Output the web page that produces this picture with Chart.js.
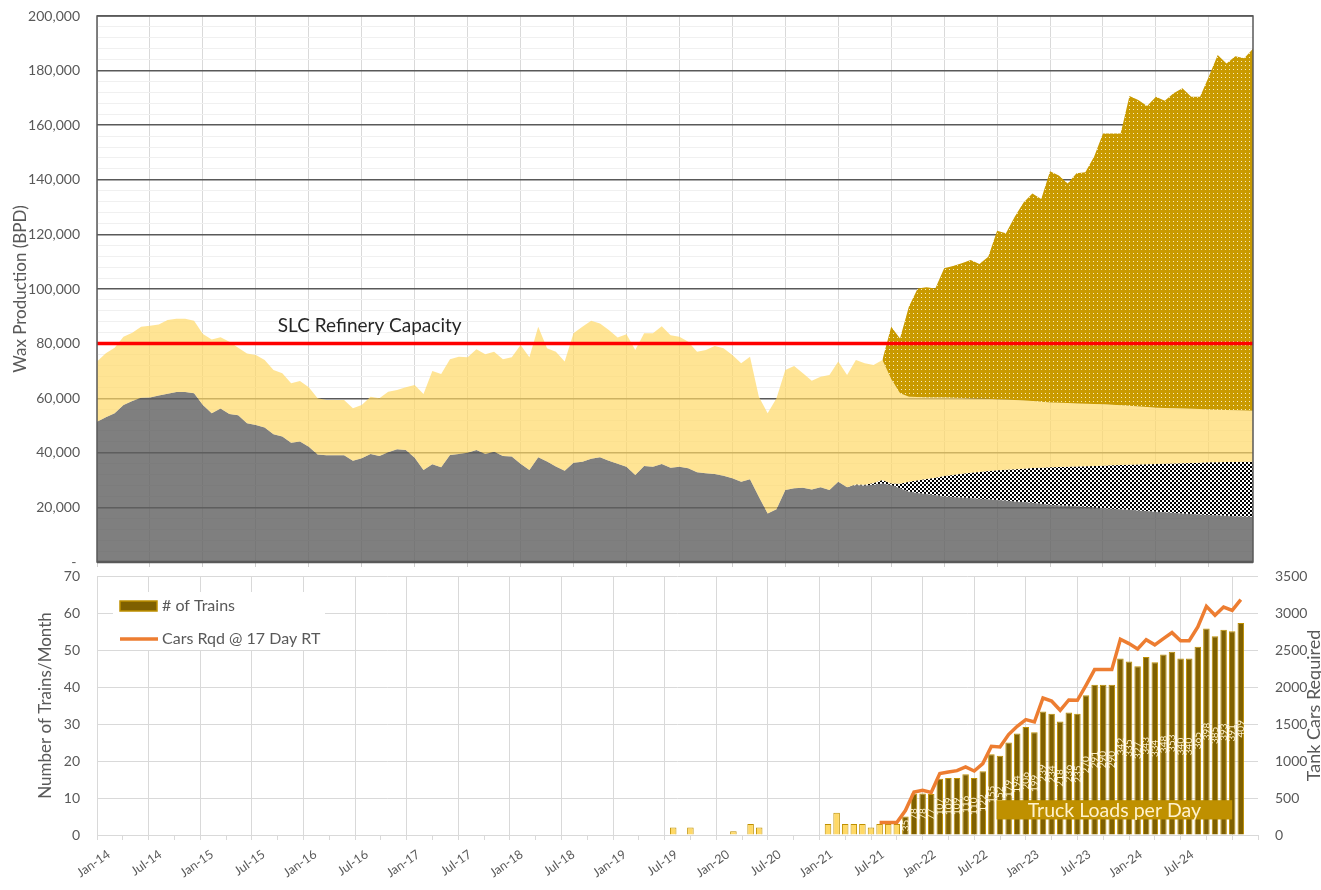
<!DOCTYPE html>
<html>
<head>
<meta charset="utf-8">
<script src="https://cdn.jsdelivr.net/npm/chart.js@4.4.1/dist/chart.umd.min.js"></script>
<style>
  html, body { margin: 0; padding: 0; background: #ffffff; }
  #wrap { position: relative; width: 1321px; height: 890px; overflow: hidden; background: #fff; }
  #top { position: absolute; left: 0; top: 0; }
  #bot { position: absolute; left: 0; top: 560px; }
</style>
</head>
<body>
<div id="wrap">
  <canvas id="top" width="1321" height="570"></canvas>
  <canvas id="bot" width="1321" height="330"></canvas>
</div>
<script>
// ---------------- DATA ----------------
const MONTHS = ['Jan','Feb','Mar','Apr','May','Jun','Jul','Aug','Sep','Oct','Nov','Dec'];
const N = 132; // Jan-14 .. Dec-24
const tickLabels = ['Jan-14','Jul-14','Jan-15','Jul-15','Jan-16','Jul-16','Jan-17','Jul-17','Jan-18','Jul-18',
  'Jan-19','Jul-19','Jan-20','Jul-20','Jan-21','Jul-21','Jan-22','Jul-22','Jan-23','Jul-23','Jan-24','Jul-24'];

// Grey area: existing wax production (BPD), Jan-14 .. Dec-24
const existingProd = [
  51400,53000,54500,57500,59000,60200,60300,61000,61600,62300,62300,61800,
  57500,54500,56200,54200,53800,50800,50200,49300,46800,46000,43700,44100,
  42200,39400,39100,39100,39100,37100,38000,39600,38800,40200,41300,41000,
  38200,33700,35800,34700,39200,39600,40000,41000,39600,40400,38800,38600,
  36000,33700,38400,36800,35000,33400,36400,36700,37800,38400,37100,36000,
  34900,31900,35200,34900,35900,34500,34900,34300,32900,32500,32200,31600,
  30700,29400,30300,23900,17800,19300,26400,27000,27200,26600,27400,26400,
  29400,27400,28200,28000,28300,28800,28200,27000,25800,25300,24900,24500,
  24000,23800,23600,23400,23200,23000,22700,22500,22200,22000,21700,21300,
  21000,20800,20600,20400,20200,20000,19700,19500,19300,19100,18900,18700,
  18400,18200,18000,17800,17600,17400,17200,17100,16900,16800,16700,16600
];
// Top of the light-yellow area (total production until Jun-21, refinery supply after)
const refinedTop = [
  73400,76500,78500,82500,84000,86200,86500,87000,88600,89100,89100,88400,
  83500,81500,82300,80700,78500,76400,75800,74000,70300,69100,65500,66300,
  64000,60000,59300,59300,59300,56300,57500,60500,60000,62400,63000,64000,
  64800,61500,70000,68900,74300,75200,75000,77900,76100,77000,74300,75000,
  79500,75000,86200,78300,77000,73400,83800,86200,88400,87400,85000,82200,
  83400,77700,83800,83800,86400,83100,82500,80700,77000,77700,79100,78300,
  75800,72800,75200,60500,54500,60000,70300,71800,69100,66400,67900,68500,
  73400,68500,74000,72800,72200,74000,67000,61800,60500,60400,60300,60300,
  60300,60200,60100,60000,59900,59800,59600,59500,59300,59200,59000,58700,
  58400,58300,58200,58100,58000,57900,57800,57600,57400,57200,57000,56800,
  56500,56400,56300,56200,56100,56000,55900,55800,55700,55600,55500,55400
];
// Top of the checkered band (new wells) from Mar-21
const newWellsTopFrom = 'Mar-21';
const newWellsTop = [
  28400,28300,28900,30000,28800,28700,29400,29900,30400,30900,31500,31900,
  32300,32700,33000,33300,33600,33800,34000,34200,34400,34500,34700,34800,
  34900,35000,35100,35200,35300,35400,35500,35600,35700,35800,35900,36000,
  36100,36200,36300,36400,36500,36500,36600,36600,36700,36700
];
// Top of the gold dotted area (total production forecast) from Jun-21
const totalProdFrom = 'Jun-21';
const totalProd = [
  74000,86200,81900,93500,100200,100600,100200,107600,108400,109400,110600,109200,
  111800,121300,120400,126500,131700,135000,133000,143100,141600,138600,142400,142800,
  148500,157000,157000,157000,170700,169200,167000,170400,169000,171700,173500,170400,
  170400,177800,185700,182600,185300,184500,188000
];
const slcCapacity = 80000;

// Bottom chart
const actualTrainsFrom = 'Jun-19';
const actualTrains = [2,null,2,null,null,null,null,1,null,3,2,null,null,null,null,null,null,null,3,6,3,3,3,2,3,3,3];
const forecastFrom = 'Sep-21';
const forecastTrains = [
  5,11.2,11.2,11.1,15.2,15.4,15.4,16.4,15.4,17.2,21.8,21.4,25.0,27.4,29.2,27.8,
  33.4,32.8,30.7,33.1,32.8,37.8,40.6,40.6,40.6,47.7,46.9,45.6,48.1,46.7,48.8,49.5,
  47.7,47.7,50.9,55.8,53.7,55.5,55.1,57.3
];
const truckLoads = [
  35,78,78,77,107,109,109,116,110,122,155,152,179,194,206,199,
  239,234,218,236,235,270,291,290,290,342,335,327,343,334,348,353,
  340,340,365,398,385,393,391,409
];
const carsFrom = 'Jun-21';
const carsRequired = [
  168,168,168,330,581,604,575,830,852,870,919,865,965,1199,1189,1357,1469,1559,1527,
  1851,1811,1685,1825,1820,2023,2235,2235,2235,2645,2586,2514,2640,2570,2654,2735,
  2625,2625,2811,3090,2969,3081,3036,3180
];

// ---------------- HELPERS ----------------
const monthIdx = lbl => { const [m, y] = lbl.split('-'); return (Number(y) - 14) * 12 + MONTHS.indexOf(m); };
const align = (startLbl, arr) => { const s = monthIdx(startLbl);
  return Array.from({length: N}, (_, i) => (i >= s && i - s < arr.length) ? arr[i - s] : null); };

const newWellsFull = align(newWellsTopFrom, newWellsTop);
const totalFull = align(totalProdFrom, totalProd);
const actualFull = align(actualTrainsFrom, actualTrains);
const forecastFull = align(forecastFrom, forecastTrains);
const truckFull = align(forecastFrom, truckLoads);
const carsFull = align(carsFrom, carsRequired);

const FAM = "Lato, 'Liberation Sans', sans-serif";
Chart.defaults.font.family = FAM;
Chart.defaults.color = '#595959';

function tile(size, paint) { const c = document.createElement('canvas'); c.width = size; c.height = size; paint(c.getContext('2d')); return c; }
const noVPad = s => { s.paddingTop = 0; s.paddingBottom = 0; };

// ---------------- TOP CHART ----------------
const tctx = document.getElementById('top').getContext('2d');
const goldDots = tctx.createPattern(tile(4, g => {
  g.fillStyle = '#c99a00'; g.fillRect(0, 0, 4, 4);
  g.fillStyle = 'rgba(255,250,225,0.85)'; g.fillRect(1, 1, 1, 1);
}), 'repeat');
const checker = tctx.createPattern(tile(4, g => {
  g.fillStyle = '#ffffff'; g.fillRect(0, 0, 4, 4);
  g.fillStyle = '#000000'; g.fillRect(0, 0, 2, 2); g.fillRect(2, 2, 2, 2);
}), 'repeat');

const pts = arr => arr.map((v, i) => ({x: i, y: v}));
const checkerBoundary = newWellsFull.map((v, i) => v ?? existingProd[i]);
const area = (label, data, fill, bg, order) => ({
  label, data: pts(data), fill, backgroundColor: bg, borderColor: 'rgba(0,0,0,0)',
  borderWidth: 0, pointRadius: 0, pointHoverRadius: 0, tension: 0, order
});

const topDecor = {
  id: 'topDecor',
  afterDraw(chart) {
    const {ctx, chartArea: a, scales: {x, y}} = chart;
    ctx.save();
    ctx.strokeStyle = '#595959';
    ctx.lineWidth = 1.5;
    ctx.strokeRect(a.left, a.top, a.right - a.left, a.bottom - a.top);
    ctx.lineWidth = 2.5;
    ctx.beginPath(); ctx.moveTo(a.left, a.bottom); ctx.lineTo(a.right, a.bottom); ctx.stroke();
    ctx.fillStyle = '#262626';
    ctx.font = '19px ' + FAM;
    ctx.textAlign = 'center'; ctx.textBaseline = 'middle';
    ctx.fillText('SLC Refinery Capacity', x.getPixelForValue(30.9), y.getPixelForValue(86400));
    ctx.restore();
  }
};

const topXTicks = Array.from({length: 22}, (_, k) => k * 6);
const topYTicks = Array.from({length: 51}, (_, k) => k * 4000);

new Chart(tctx, {
  type: 'line',
  data: { datasets: [
    {label: 'SLC Refinery Capacity', data: pts(Array.from({length: N}, () => slcCapacity)),
     borderColor: '#ff0000', borderWidth: 3.5, pointRadius: 0, fill: false, tension: 0, order: 0},
    area('Existing production', existingProd, 'origin', 'rgba(95,95,95,0.8)', 4),
    area('New wells', checkerBoundary, '-1', checker, 3),
    area('Refinery supply', refinedTop, '-1', 'rgba(255,217,102,0.7)', 2),
    area('Excess wax', totalFull, '-1', goldDots, 1)
  ]},
  options: {
    responsive: false, animation: false, devicePixelRatio: 1, events: [],
    layout: {padding: {top: 16, right: 68, left: 0, bottom: 0}},
    plugins: {legend: {display: false}, tooltip: {enabled: false}},
    scales: {
      x: {
        type: 'linear', min: 0, max: 131,
        afterBuildTicks: s => { s.ticks = topXTicks.map(v => ({value: v})); },
        ticks: {display: false},
        grid: {color: '#d9d9d9', lineWidth: 1, drawTicks: true, tickLength: 5, tickColor: '#d0d0d0'},
        border: {display: false},
        afterFit: s => { s.height = 8; s.paddingLeft = 0; s.paddingRight = 0; }
      },
      y: {
        min: 0, max: 200000,
        afterBuildTicks: s => { s.ticks = topYTicks.map(v => ({value: v})); },
        ticks: {
          autoSkip: false, padding: 17, color: '#595959', font: {size: 14},
          callback: v => v % 20000 === 0 ? (v === 0 ? '- ' : v.toLocaleString('en-US')) : ''
        },
        grid: {
          drawTicks: false,
          color: c => (c.tick && c.tick.value % 20000 === 0) ? '#595959' : '#f0f0f0',
          lineWidth: c => (c.tick && c.tick.value % 20000 === 0) ? 1.4 : 1
        },
        border: {display: false},
        title: {display: true, text: 'Wax Production (BPD)', color: '#595959', font: {size: 17}, padding: {top: 10, bottom: 0}},
        afterFit: s => { s.width = 97; noVPad(s); }
      }
    }
  },
  plugins: [topDecor]
});

// ---------------- BOTTOM CHART ----------------
const bctx = document.getElementById('bot').getContext('2d');
const midPts = arr => arr.map((v, i) => ({x: i + 0.5, y: v}));
const botXTicks = Array.from({length: 45}, (_, k) => k * 3);

const botDecor = {
  id: 'botDecor',
  afterDraw(chart) {
    const {ctx, chartArea: a, scales: {x, y}} = chart;
    ctx.save();
    // x-axis labels, rotated, ending at their tick
    ctx.fillStyle = '#595959';
    ctx.font = '12.5px ' + FAM;
    ctx.textAlign = 'right'; ctx.textBaseline = 'middle';
    tickLabels.forEach((lbl, k) => {
      ctx.save();
      ctx.translate(x.getPixelForValue(k * 6) - 1, a.bottom + 18);
      ctx.rotate(-35 * Math.PI / 180);
      ctx.fillText(lbl, 0, 0);
      ctx.restore();
    });
    // bar labels: truck loads per day
    const meta = chart.getDatasetMeta(1);
    ctx.fillStyle = '#fff2cc';
    ctx.font = '10px ' + FAM;
    ctx.textAlign = 'center'; ctx.textBaseline = 'middle';
    meta.data.forEach((el, i) => {
      const t = truckFull[i];
      if (t == null || forecastFull[i] == null) return;
      ctx.save();
      ctx.translate(el.x, (el.y + el.base) / 2);
      ctx.rotate(-Math.PI / 2);
      ctx.fillText(String(t), 0, 0);
      ctx.restore();
    });
    // "Truck Loads per Day" box
    const bx1 = x.getPixelForValue(103.1), bx2 = x.getPixelForValue(130.5);
    const by1 = y.getPixelForValue(9.4), by2 = y.getPixelForValue(4.2);
    ctx.fillStyle = '#bf9000';
    ctx.fillRect(bx1, by1, bx2 - bx1, by2 - by1);
    ctx.fillStyle = '#fff2cc';
    ctx.font = '19.5px ' + FAM;
    ctx.fillText('Truck Loads per Day', (bx1 + bx2) / 2, (by1 + by2) / 2 + 1);

    // legend
    const lx = a.left + 16, ly = a.top + 16;
    ctx.fillStyle = '#ffffff';
    ctx.fillRect(lx, ly, 212, 58);
    const bars = chart.data.datasets[1], line = chart.data.datasets[0];
    ctx.fillStyle = bars.backgroundColor; ctx.strokeStyle = bars.borderColor; ctx.lineWidth = 1.5;
    ctx.fillRect(lx + 7, ly + 9, 37, 10); ctx.strokeRect(lx + 7, ly + 9, 37, 10);
    ctx.strokeStyle = line.borderColor; ctx.lineWidth = 3.5;
    ctx.beginPath(); ctx.moveTo(lx + 7, ly + 47); ctx.lineTo(lx + 45, ly + 47); ctx.stroke();
    ctx.fillStyle = '#595959'; ctx.font = '16px ' + FAM; ctx.textAlign = 'left';
    ctx.fillText(bars.label, lx + 49, ly + 14);
    ctx.fillText(line.label, lx + 49, ly + 47);

    // right axis title (reads bottom to top)
    ctx.save();
    ctx.translate(1314, (a.top + a.bottom) / 2);
    ctx.rotate(-Math.PI / 2);
    ctx.textAlign = 'center'; ctx.textBaseline = 'middle';
    ctx.font = '18px ' + FAM; ctx.fillStyle = '#595959';
    ctx.fillText('Tank Cars Required', 0, 0);
    ctx.restore();
    ctx.restore();
  }
};

new Chart(bctx, {
  type: 'bar',
  data: { datasets: [
    {type: 'line', label: 'Cars Rqd @ 17 Day RT', data: midPts(carsFull), yAxisID: 'y1',
     borderColor: '#ed7d31', borderWidth: 3.5, pointRadius: 0, fill: false, tension: 0, order: 0},
    {label: '# of Trains', data: midPts(forecastFull), yAxisID: 'y', backgroundColor: '#7f6000',
     borderColor: '#bf9000', borderWidth: 1, grouped: false, barPercentage: 0.76, categoryPercentage: 1, order: 1},
    {label: 'Actual trains', data: midPts(actualFull), yAxisID: 'y', backgroundColor: '#ffd966',
     borderColor: '#bf9000', borderWidth: 1, grouped: false, barPercentage: 0.76, categoryPercentage: 1, order: 2}
  ]},
  options: {
    responsive: false, animation: false, devicePixelRatio: 1, events: [],
    layout: {padding: {top: 16, right: 0, left: 0, bottom: 0}},
    plugins: {legend: {display: false}, tooltip: {enabled: false}},
    scales: {
      x: {
        type: 'linear', min: 0, max: 132,
        afterBuildTicks: s => { s.ticks = botXTicks.map(v => ({value: v})); },
        ticks: {display: false},
        grid: {
          color: c => (c.tick && c.tick.value % 6 === 0) ? '#d9d9d9' : 'rgba(0,0,0,0)',
          drawTicks: true, tickLength: 5, tickColor: '#d9d9d9'
        },
        border: {display: true, color: '#d9d9d9'},
        afterFit: s => { s.height = 55; s.paddingLeft = 0; s.paddingRight = 0; }
      },
      y: {
        position: 'left', min: 0, max: 70,
        ticks: {stepSize: 10, padding: 17, color: '#595959', font: {size: 14}},
        grid: {color: '#d9d9d9', drawTicks: false},
        border: {display: false},
        title: {display: true, text: 'Number of Trains/Month', color: '#595959', font: {size: 17}, padding: {top: 35, bottom: 0}},
        afterFit: s => { s.width = 97; noVPad(s); }
      },
      y1: {
        position: 'right', min: 0, max: 3500,
        ticks: {stepSize: 500, padding: 17, color: '#595959', font: {size: 14}, callback: v => String(v)},
        grid: {drawOnChartArea: false, drawTicks: false},
        border: {display: false},
        afterFit: s => { s.width = 63; noVPad(s); }
      }
    }
  },
  plugins: [botDecor]
});
</script>
</body>
</html>
